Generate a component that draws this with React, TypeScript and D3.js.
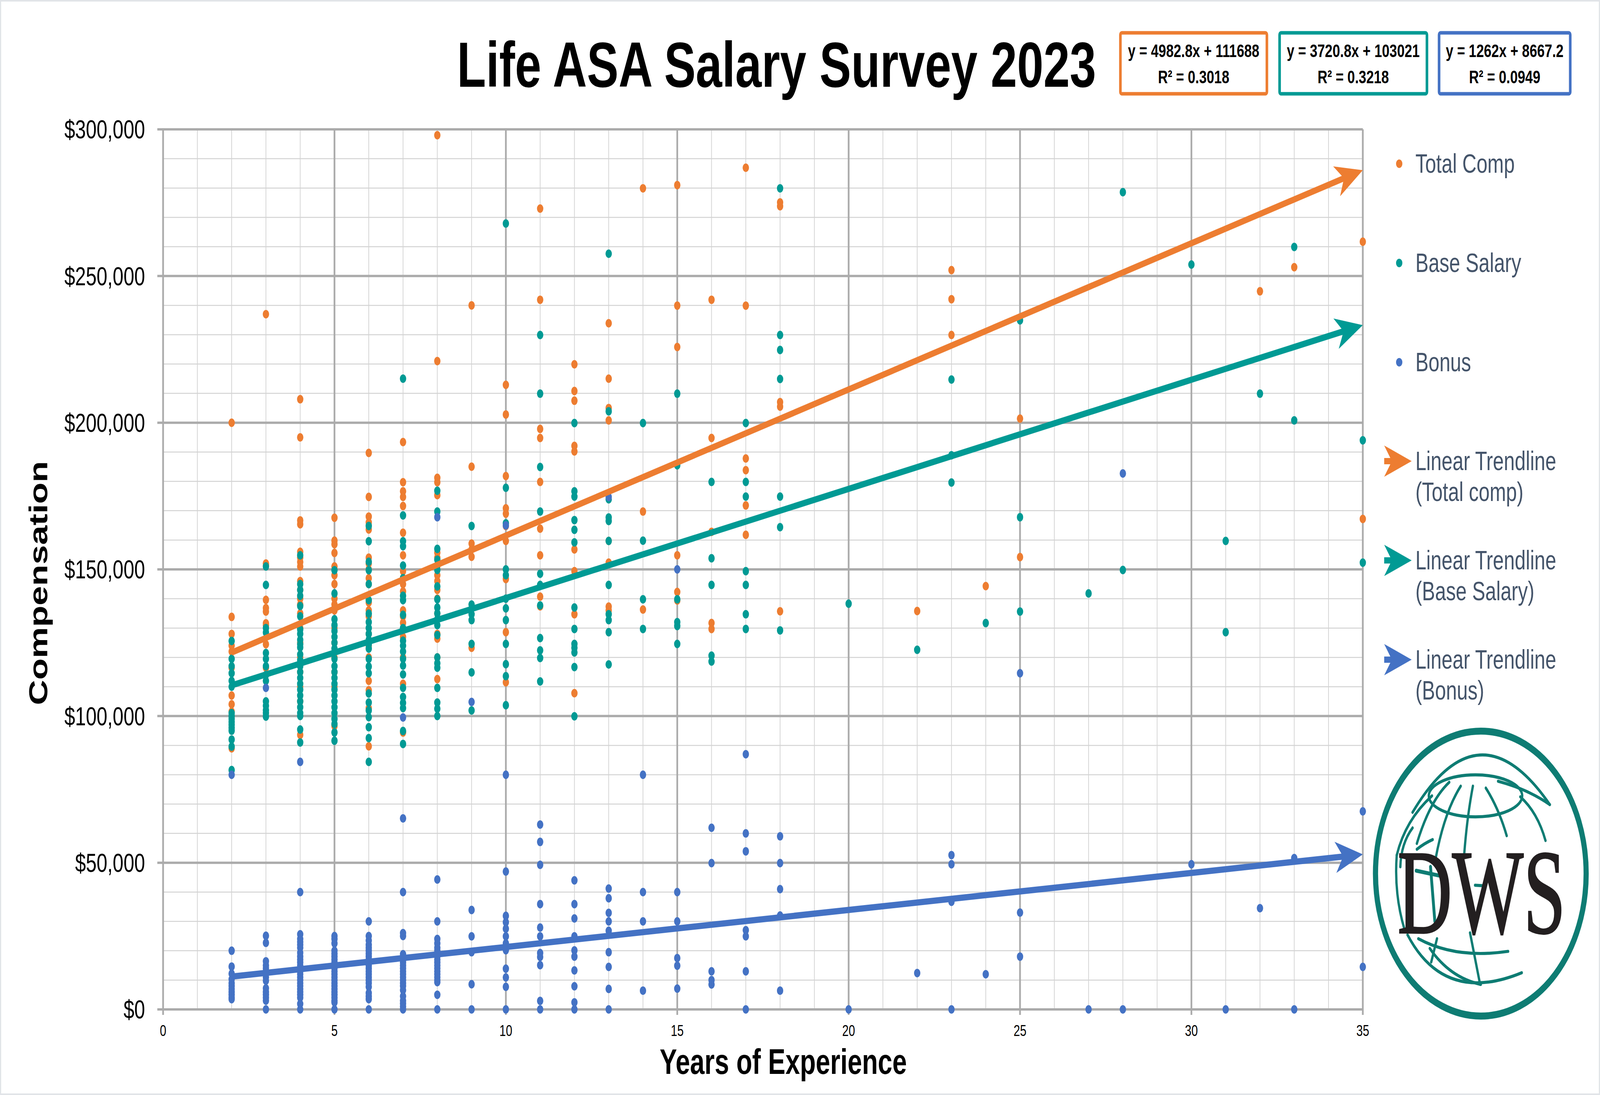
import * as d3 from "d3";

const W = 5538;
const H = 2802;

const ORANGE = "#ED7D31";
const TEAL = "#009A94";
const BLUE = "#4472C4";
const LOGO = "#0E7C73";
const LEGEND_TEXT = "#44546A";
const FONT = "'Liberation Sans', Arial, sans-serif";

// values in $ thousands, grouped by years of experience
const totalComp: [number, number[]][] = [
  [2, [200, 133.8, 128, 124, 122, 116.5, 107, 104, 101.5, 89]],
  [3, [237, 152, 151.3, 139.6, 136.8, 135.6, 131.6, 131, 124.5, 116.5]],
  [4, [208, 195, 166.7, 165.4, 156, 154, 152.5, 151, 146, 143, 140, 138, 135, 130, 125, 120, 115, 110, 105, 93.6]],
  [5, [167.6, 159.8, 158.6, 155.6, 151, 148, 145, 140, 138, 136, 130, 125, 120, 115, 110, 96.6]],
  [6, [189.7, 174.7, 168, 166, 163.6, 154, 152, 150, 147, 145, 138.7, 136, 134, 128, 124, 120, 112, 108.8, 102.7, 89.7]],
  [7, [193.4, 179.7, 176.6, 174.7, 171.6, 162.5, 154.8, 149.4, 147, 145, 142.5, 136, 134, 131.8, 127, 120, 111, 94.4]],
  [8, [298, 221, 181.2, 179.7, 175.3, 155.7, 154, 151, 148, 146, 143, 140, 135, 128, 126.4, 120, 112.6]],
  [9, [240, 185, 158.8, 156.8, 154.3, 123.3]],
  [10, [212.9, 202.8, 181.8, 170.8, 169, 164.8, 159.7, 146.7, 128.6, 111.5]],
  [11, [273, 241.9, 197.9, 194.8, 179.8, 163.9, 154.8, 140.7, 137.4]],
  [12, [219.9, 210.8, 207.5, 192.1, 190.2, 156.8, 149.4, 134.7, 107.8]],
  [13, [233.9, 215, 205, 200.8, 159.7, 152.3, 137.3, 136]],
  [14, [279.9, 169.7, 136.3]],
  [15, [281, 239.9, 225.8, 154.8, 142.3, 139.4]],
  [16, [241.9, 194.8, 162.8, 131.7, 129.7]],
  [17, [286.9, 239.9, 187.8, 183.8, 171.8, 161.8]],
  [18, [275.1, 273.8, 207, 205.5, 135.7]],
  [22, [135.8]],
  [23, [252, 242.1, 229.9]],
  [24, [144.3]],
  [25, [201.4, 154.2]],
  [32, [244.8]],
  [33, [253]],
  [35, [261.7, 167.2]],
];

const baseSalary: [number, number[]][] = [
  [2, [125.6, 119.5, 117, 114.6, 112, 110, 101, 100, 99, 98, 97, 96, 95, 92, 89.6, 81.6]],
  [3, [151, 144.7, 130, 128.5, 121.5, 119.5, 117, 114, 112, 105, 103.5, 102, 101, 99.8]],
  [4, [154.8, 145, 143, 141, 137.5, 134, 129.5, 128, 126, 124.5, 123.4, 121, 119, 117, 115, 113, 111, 109, 107, 105, 103, 101, 100, 95.4, 91]],
  [5, [149.7, 141.8, 133, 131, 129, 127, 125, 123, 119.5, 117, 115, 113, 111, 109, 107, 105, 103, 101, 99, 97.3, 94.4, 91.6]],
  [6, [164.8, 159.6, 152.6, 149.7, 145, 139.5, 134.9, 132, 130, 128, 126, 124.5, 123, 119.5, 116.9, 114.6, 107.7, 104.6, 101.9, 99.6, 96.2, 92.5, 84.4]],
  [7, [215, 168.4, 159.6, 157.9, 151.3, 147, 141, 139.5, 134.5, 130, 125.7, 124, 122, 119.5, 117.2, 114.2, 109.6, 106.5, 104.5, 102.7, 94.9, 90.5]],
  [8, [176.8, 169.7, 157, 153.3, 149.8, 144.2, 139.8, 137, 135, 133, 131, 127.6, 120, 118, 116.5, 109.6, 104.6, 102.5, 100]],
  [9, [164.8, 138, 134.7, 132.7, 124.6, 114.9, 101.9]],
  [10, [267.9, 177.8, 165.7, 150, 148, 140, 136.7, 132.7, 124.6, 117.7, 113.6, 103.7]],
  [11, [229.9, 209.9, 184.9, 169.7, 148.5, 144.7, 137.7, 126.6, 122.4, 119.8, 111.8]],
  [12, [199.9, 176.6, 174.8, 166.8, 163.5, 159.2, 137, 129.7, 124.6, 123.3, 121.7, 116.7, 99.9]],
  [13, [257.6, 203.9, 173.9, 167.7, 166.5, 159.7, 144.7, 134.7, 132.7, 128.6, 117.6]],
  [14, [199.9, 159.8, 139.8, 129.7]],
  [15, [209.9, 185.5, 139.8, 132, 130.7, 124.6]],
  [16, [179.8, 153.8, 144.7, 120.6, 118.6]],
  [17, [199.9, 179.8, 174.8, 149.4, 144.7, 134.7, 129.7]],
  [18, [279.9, 229.9, 224.8, 214.9, 174.8, 164.4, 129.2]],
  [20, [138.3]],
  [22, [122.6]],
  [23, [214.7, 188.9, 179.6]],
  [24, [131.7]],
  [25, [234.9, 167.8, 135.6]],
  [27, [141.8]],
  [28, [278.6, 149.8]],
  [30, [253.9]],
  [31, [159.7, 128.6]],
  [32, [209.9]],
  [33, [259.9, 200.8]],
  [35, [194, 152.3]],
];

const bonus: [number, number[]][] = [
  [2, [80, 20, 14.6, 12.2, 10.3, 9, 8, 7, 6, 5, 4, 3.5]],
  [3, [109.6, 25.1, 22.7, 16.4, 15, 14, 13, 12, 11, 9.8, 7.2, 6, 5, 4, 3, 0]],
  [4, [84.4, 40, 25.6, 24, 23, 22, 21, 19.3, 18, 17, 16, 15, 14, 13, 12, 11, 10, 9, 8, 7, 6, 5, 4, 1.9, 0]],
  [5, [25, 24, 22.5, 20, 19, 18, 17, 16, 15, 14, 13, 12, 11, 10, 9, 8, 7, 6, 5, 4, 3, 2.4, 0]],
  [6, [30, 25, 23.5, 22, 21, 20, 19, 18, 17, 16, 15, 14, 13, 12, 11, 10, 9, 7.7, 5.6, 4.5, 3.5, 0]],
  [7, [99.5, 65.1, 40, 26, 25, 18.8, 18, 17, 16, 15, 14, 13, 12, 11, 10, 9, 8, 6.6, 4.5, 3, 2, 1, 0]],
  [8, [167.8, 44.3, 30, 24, 22.5, 21, 20, 19, 18, 17, 16, 15, 14, 13, 12, 11, 10, 9.3, 5, 0]],
  [9, [104.8, 33.9, 24.9, 19.5, 8.6, 0]],
  [10, [165, 80, 47, 31.9, 29.7, 27.5, 24.9, 22.5, 20.2, 13.9, 10.9, 7.7, 0]],
  [11, [63, 57.1, 49.3, 35.9, 27.9, 24.9, 19.2, 17.9, 15.1, 2.9, 0]],
  [12, [44, 35.9, 31, 24.9, 20.1, 18, 13.3, 7.9, 2.4, 0]],
  [13, [174.7, 41.2, 37.9, 32.9, 30, 26.8, 19.5, 14.5, 7, 0]],
  [14, [80, 40, 30, 6.4]],
  [15, [150, 40, 30, 17.5, 14.9, 7.1]],
  [16, [61.9, 49.9, 13, 10, 8.5]],
  [17, [87, 60, 53.9, 27, 24.9, 13, 0]],
  [18, [59, 49.9, 41, 32, 6.4]],
  [20, [0]],
  [22, [12.4]],
  [23, [52.6, 49.5, 36.7, 0]],
  [24, [12]],
  [25, [114.6, 33, 18]],
  [27, [0]],
  [28, [182.7, 0]],
  [30, [49.5]],
  [31, [0]],
  [32, [34.5]],
  [33, [51.6, 0]],
  [35, [67.5, 14.5]],
];

const seriesNames = ["Total Comp", "Base Salary", "Bonus"];
const trendNames = [
  ["Linear Trendline", "(Total comp)"],
  ["Linear Trendline", "(Base Salary)"],
  ["Linear Trendline", "(Bonus)"],
];
const trendSlope = [4982.8, 3720.8, 1262];
const trendIntercept = [111688, 103021, 8667.2];
const trendR2 = ["0.3018", "0.3218", "0.0949"];
const trendRange = [2, 35];

const xTicks = [0, 5, 10, 15, 20, 25, 30, 35];
const yTicks = [0, 50, 100, 150, 200, 250, 300];

const colors = [ORANGE, TEAL, BLUE];
const allSeries = [totalComp, baseSalary, bonus];

const x = d3.scaleLinear().domain([0, 35]).range([564.5, 4717]);
const y = d3.scaleLinear().domain([0, 300]).range([2583, 331]);
const money = d3.format("$,");

function arrowPath(x1: number, y1: number, x2: number, y2: number, L = 95, hw = 40) {
  const len = Math.hypot(x2 - x1, y2 - y1);
  const ux = (x2 - x1) / len;
  const uy = (y2 - y1) / len;
  const nx = -uy;
  const ny = ux;
  const bx = x2 - L * ux;
  const by = y2 - L * uy;
  const p = d3.path();
  p.moveTo(x2, y2);
  p.lineTo(bx + hw * nx, by + hw * ny);
  p.lineTo(x2 - 0.72 * L * ux, y2 - 0.72 * L * uy);
  p.lineTo(bx - hw * nx, by - hw * ny);
  p.closePath();
  return {
    head: p.toString(),
    lx2: x2 - 0.6 * L * ux,
    ly2: y2 - 0.6 * L * uy,
  };
}

const Arrow = ({ x1, y1, x2, y2, color }: { x1: number; y1: number; x2: number; y2: number; color: string }) => {
  const a = arrowPath(x1, y1, x2, y2);
  return (
    <g>
      <line x1={x1} y1={y1} x2={a.lx2} y2={a.ly2} stroke={color} strokeWidth={16} />
      <path d={a.head} fill={color} />
    </g>
  );
};

const Logo = () => (
  <g transform="translate(4740,1840) scale(0.4974)">
    <circle cx={775} cy={795} r={733} fill="#fff" stroke={LOGO} strokeWidth={36} />
    <g fill="none" stroke={LOGO} strokeWidth={16} strokeLinecap="round">
      <ellipse cx={738} cy={395} rx={325} ry={108} />
      <path d="M300,480 Q760,-90 1255,440" />
      <path d="M1050,400 Q1170,480 1225,625" />
      <path d="M435,395 Q250,520 190,700" />
      <path d="M190,700 Q170,900 245,1085" />
      <path d="M300,560 Q220,640 215,760" />
      <path d="M555,325 Q420,420 330,640" />
      <path d="M635,345 Q520,480 460,720" />
      <path d="M720,345 Q680,500 660,690" />
      <path d="M810,355 Q900,460 955,600" />
      <path d="M895,320 Q1100,360 1255,440" />
      <path d="M440,620 Q380,640 330,670" />
      <path d="M265,1110 Q520,1470 1060,1305" />
      <path d="M340,1130 Q600,1235 965,1195" />
      <path d="M420,1180 Q560,1330 775,1365" />
      <path d="M700,1100 L770,1365" />
      <path d="M470,1130 L430,1250" />
      <path d="M735,855 L805,858" />
      <path d="M425,760 L455,1040" strokeWidth={20} />
      <path d="M325,780 L515,810" strokeWidth={20} />
    </g>
    <text
      x={195}
      y={1100}
      fontFamily="'Liberation Serif', 'DejaVu Serif', serif"
      fontSize={620}
      textLength={1170}
      lengthAdjust="spacingAndGlyphs"
      fill="#231F20"
      stroke="#231F20"
      strokeWidth={8}
    >
      DWS
    </text>
  </g>
);

export default function App() {
  const [x0, x1] = x.range();
  const [yBottom, yTop] = y.range();
  const minorX = d3.range(0, 36).filter((d) => d % 5 !== 0);
  const minorY = d3.range(0, 301, 10).filter((d) => d % 50 !== 0);

  const points = allSeries.flatMap((s, si) =>
    s.flatMap(([yr, vals]) => vals.map((v) => ({ yr, v, si })))
  );

  const boxes = [
    { x: 3878, w: 507 },
    { x: 4429, w: 510 },
    { x: 4981, w: 454 },
  ];

  // the browser viewport is narrower than the chart, so the chart is fitted to fill it
  return (
    <>
      <style>{`html,body{margin:0;padding:0;overflow:hidden}`}</style>
      <svg
        viewBox={`0 0 ${W} ${H}`}
        preserveAspectRatio="none"
        style={{ display: "block", width: "100vw", height: "100vh" }}
        fontFamily={FONT}
      >
        <rect x={0} y={0} width={W} height={H} fill="#fff" stroke="#E1E4E8" strokeWidth={8} />

        {/* gridlines */}
        <g stroke="#D3D3D3" strokeWidth={2.5}>
          {minorX.map((d) => (
            <line key={"mx" + d} x1={x(d)} x2={x(d)} y1={yTop} y2={yBottom} />
          ))}
          {minorY.map((d) => (
            <line key={"my" + d} x1={x0} x2={x1} y1={y(d)} y2={y(d)} />
          ))}
        </g>
        <g stroke="#ABABAB" strokeWidth={6}>
          {xTicks.map((d) => (
            <line key={"Mx" + d} x1={x(d)} x2={x(d)} y1={yTop} y2={yBottom + 14} />
          ))}
          {yTicks.map((d) => (
            <line key={"My" + d} x1={x0 - 20} x2={x1} y1={y(d)} y2={y(d)} />
          ))}
        </g>

        {/* points */}
        <g>
          {points.map((p, i) => (
            <circle key={i} cx={x(p.yr)} cy={y(p.v)} r={11} fill={colors[p.si]} />
          ))}
        </g>

        {/* trendlines */}
        {trendSlope.map((m, i) => {
          const f = (t: number) => (m * t + trendIntercept[i]) / 1000;
          return (
            <Arrow
              key={"t" + i}
              x1={x(trendRange[0])}
              y1={y(f(trendRange[0]))}
              x2={x(trendRange[1])}
              y2={y(f(trendRange[1]))}
              color={colors[i]}
            />
          );
        })}

        {/* axis labels */}
        <g fontSize={67} textAnchor="end" fill="#000">
          {yTicks.map((d) => (
            <text key={"yl" + d} x={502} y={y(d)} dominantBaseline="central">
              {money(d * 1000)}
            </text>
          ))}
        </g>
        <g fontSize={40} textAnchor="middle" fill="#000">
          {xTicks.map((d) => (
            <text key={"xl" + d} x={x(d)} y={2637} dominantBaseline="central">
              {d}
            </text>
          ))}
        </g>
        <text x={2711} y={2748} fontSize={90} fontWeight="bold" textAnchor="middle">
          Years of Experience
        </text>
        <text
          transform="translate(163,1492) rotate(-90)"
          fontSize={90}
          fontWeight="bold"
          textAnchor="middle"
        >
          Compensation
        </text>

        {/* title */}
        <text x={2688} y={222} fontSize={164} fontWeight="bold" textAnchor="middle">
          Life ASA Salary Survey 2023
        </text>

        {/* equation boxes */}
        {boxes.map((b, i) => (
          <g key={"b" + i}>
            <rect x={b.x} y={84} width={b.w} height={156} rx={5} fill="#fff" stroke={colors[i]} strokeWidth={9} />
            <text x={b.x + b.w / 2} y={130} fontSize={47} fontWeight="bold" textAnchor="middle" dominantBaseline="central">
              {`y = ${trendSlope[i]}x + ${trendIntercept[i]}`}
            </text>
            <text x={b.x + b.w / 2} y={197} fontSize={47} fontWeight="bold" textAnchor="middle" dominantBaseline="central">
              {`R² = ${trendR2[i]}`}
            </text>
          </g>
        ))}

        {/* legend */}
        <g fontSize={68} fill={LEGEND_TEXT}>
          {seriesNames.map((n, i) => (
            <g key={"l" + i}>
              <circle cx={4843} cy={419 + i * 254} r={11} fill={colors[i]} />
              <text x={4899} y={419 + i * 254} dominantBaseline="central">
                {n}
              </text>
            </g>
          ))}
          {trendNames.map((n, i) => {
            const cy = 1180 + i * 254;
            return (
              <g key={"lt" + i}>
                <Arrow x1={4791} y1={cy} x2={4886} y2={cy} color={colors[i]} />
                <text x={4899} y={cy} dominantBaseline="central">
                  {n[0]}
                </text>
                <text x={4899} y={cy + 79} dominantBaseline="central">
                  {n[1]}
                </text>
              </g>
            );
          })}
        </g>

        <Logo />
      </svg>
    </>
  );
}
